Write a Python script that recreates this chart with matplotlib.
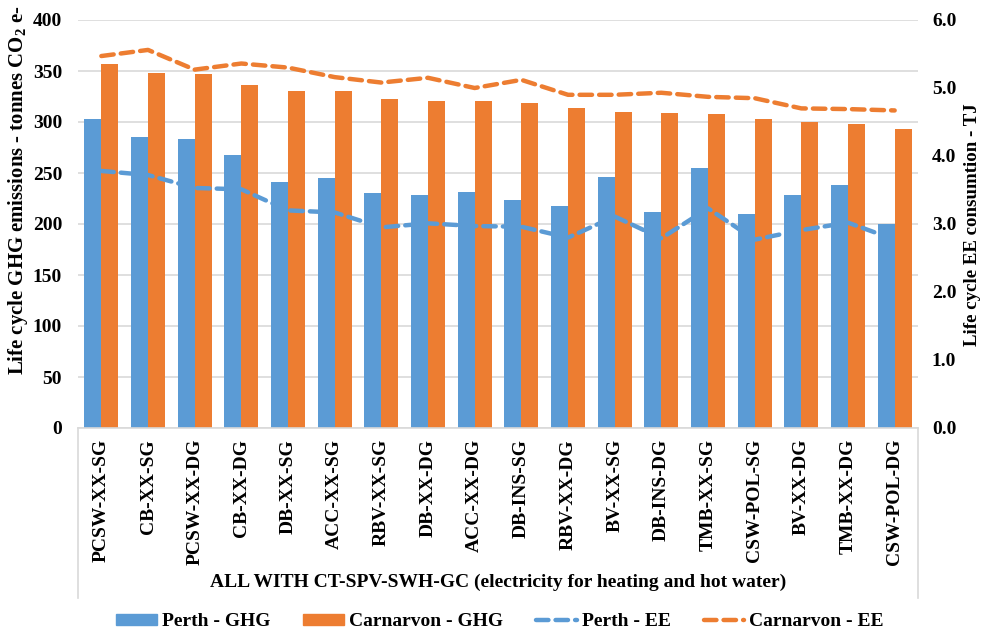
import matplotlib
matplotlib.use("Agg")
import matplotlib.pyplot as plt
import numpy as np
from matplotlib.lines import Line2D
from matplotlib.patches import Patch

plt.rcParams["font.family"] = ["Liberation Serif", "DejaVu Serif"]
plt.rcParams["font.weight"] = "bold"
plt.rcParams["mathtext.fontset"] = "custom"
plt.rcParams["mathtext.rm"] = "Liberation Serif:bold"
plt.rcParams["mathtext.bf"] = "Liberation Serif:bold"

categories = ["PCSW-XX-SG", "CB-XX-SG", "PCSW-XX-DG", "CB-XX-DG", "DB-XX-SG", "ACC-XX-SG",
              "RBV-XX-SG", "DB-XX-DG", "ACC-XX-DG", "DB-INS-SG", "RBV-XX-DG", "BV-XX-SG",
              "DB-INS-DG", "TMB-XX-SG", "CSW-POL-SG", "BV-XX-DG", "TMB-XX-DG", "CSW-POL-DG"]
perth_ghg = [303, 285, 283, 268, 241, 245, 230, 228, 231, 224, 218, 246, 212, 255, 210, 228, 238, 200]
carnarvon_ghg = [357, 348, 347, 336, 330, 330, 323, 321, 321, 319, 314, 310, 309, 308, 303, 300, 298, 293]
perth_ee = [3.78, 3.72, 3.53, 3.51, 3.20, 3.17, 2.95, 3.01, 2.97, 2.96, 2.80, 3.11,
            2.79, 3.23, 2.77, 2.91, 3.02, 2.77]
carnarvon_ee = [5.47, 5.56, 5.27, 5.36, 5.30, 5.16, 5.08, 5.15, 5.00, 5.12, 4.90, 4.90,
                4.93, 4.87, 4.85, 4.70, 4.69, 4.67]
group_label = "ALL WITH CT-SPV-SWH-GC (electricity for heating and hot water)"

BLUE = "#5B9BD5"
ORANGE = "#ED7D31"
GRID = "#D9D9D9"
FS = 14

W, H = 989, 632
fig = plt.figure(figsize=(W / 100, H / 100), dpi=100)
x0, x1, y_top, y_bot = 78, 918, 20, 428
ax = fig.add_axes([x0 / W, (H - y_bot) / H, (x1 - x0) / W, (y_bot - y_top) / H])
ax2 = ax.twinx()

x = np.arange(len(categories))
bw = 0.364
ax.bar(x - bw / 2, perth_ghg, bw, color=BLUE, zorder=2)
ax.bar(x + bw / 2, carnarvon_ghg, bw, color=ORANGE, zorder=2)
ax.set_xlim(-0.5, len(categories) - 0.5)
ax.set_ylim(0, 400)
ax.set_yticks(np.arange(0, 401, 50))
ax.yaxis.grid(True, color=GRID, lw=1.2, zorder=0)
ax.set_axisbelow(True)
ax.set_xticks([])
for s in ["top", "left", "right"]:
    ax.spines[s].set_visible(False)
    ax2.spines[s].set_visible(False)
ax.spines["bottom"].set_color(GRID)
ax.spines["bottom"].set_linewidth(1.2)
ax2.spines["bottom"].set_visible(False)
ax.tick_params(axis="y", length=0, labelsize=FS, pad=11.5)

ln_kw = dict(lw=3.2, linestyle=(0, (2.8, 1.6)), dash_capstyle="round", zorder=3)
ax2.plot(x, perth_ee, color=BLUE, **ln_kw)
ax2.plot(x, carnarvon_ee, color=ORANGE, **ln_kw)
ax2.set_ylim(0, 6)
ax2.set_yticks(np.arange(0, 6.01, 1))
ax2.set_yticklabels([f"{v:.1f}" for v in np.arange(0, 6.01, 1)])
ax2.tick_params(axis="y", length=0, labelsize=FS, pad=10)

for t in ax.get_yticklabels() + ax2.get_yticklabels():
    t.set_fontweight("bold")

# axis titles, sized so their length matches the reference
lab1 = fig.text(30 / W, 1 - 190 / H, "Life cycle GHG emissions - tonnes CO$_2$ e-",
                rotation=90, ha="right", va="center", fontsize=FS, fontweight="bold")
lab2 = fig.text(964 / W, 1 - 225 / H, "Life cycle EE consumtion - TJ",
                rotation=90, ha="left", va="center", fontsize=FS, fontweight="bold")
rend = fig.canvas.get_renderer()
for lab, target in ((lab1, 371), (lab2, 244)):
    h = lab.get_window_extent(rend).height
    lab.set_fontsize(FS * target / h)

# category labels and box
for i, c in enumerate(categories):
    xd = ax.transData.transform((i, 0))[0]
    fig.text(xd / W, 1 - 439 / H, c, rotation=90, ha="center", va="top",
             fontsize=FS, fontweight="bold")
for xb in (x0, x1):
    fig.add_artist(Line2D([xb / W, xb / W], [1 - y_bot / H, 1 - 598 / H], color=GRID, lw=1.2))
fig.text(498 / W, 1 - 582 / H, group_label, ha="center", va="center",
         fontsize=FS, fontweight="bold")

handles = [Patch(color=BLUE), Patch(color=ORANGE),
           Line2D([], [], color=BLUE, **ln_kw), Line2D([], [], color=ORANGE, **ln_kw)]
labels = ["Perth - GHG", "Carnarvon - GHG", "Perth - EE", "Carnarvon - EE"]
fig.legend(handles, labels, loc="center", bbox_to_anchor=(500 / W, 1 - 622 / H), ncol=4,
           frameon=False, handlelength=2.1, handleheight=0.55,
           columnspacing=1.7, handletextpad=0.25, prop={"weight": "bold", "size": FS})

fig.savefig("out.png", dpi=100)
